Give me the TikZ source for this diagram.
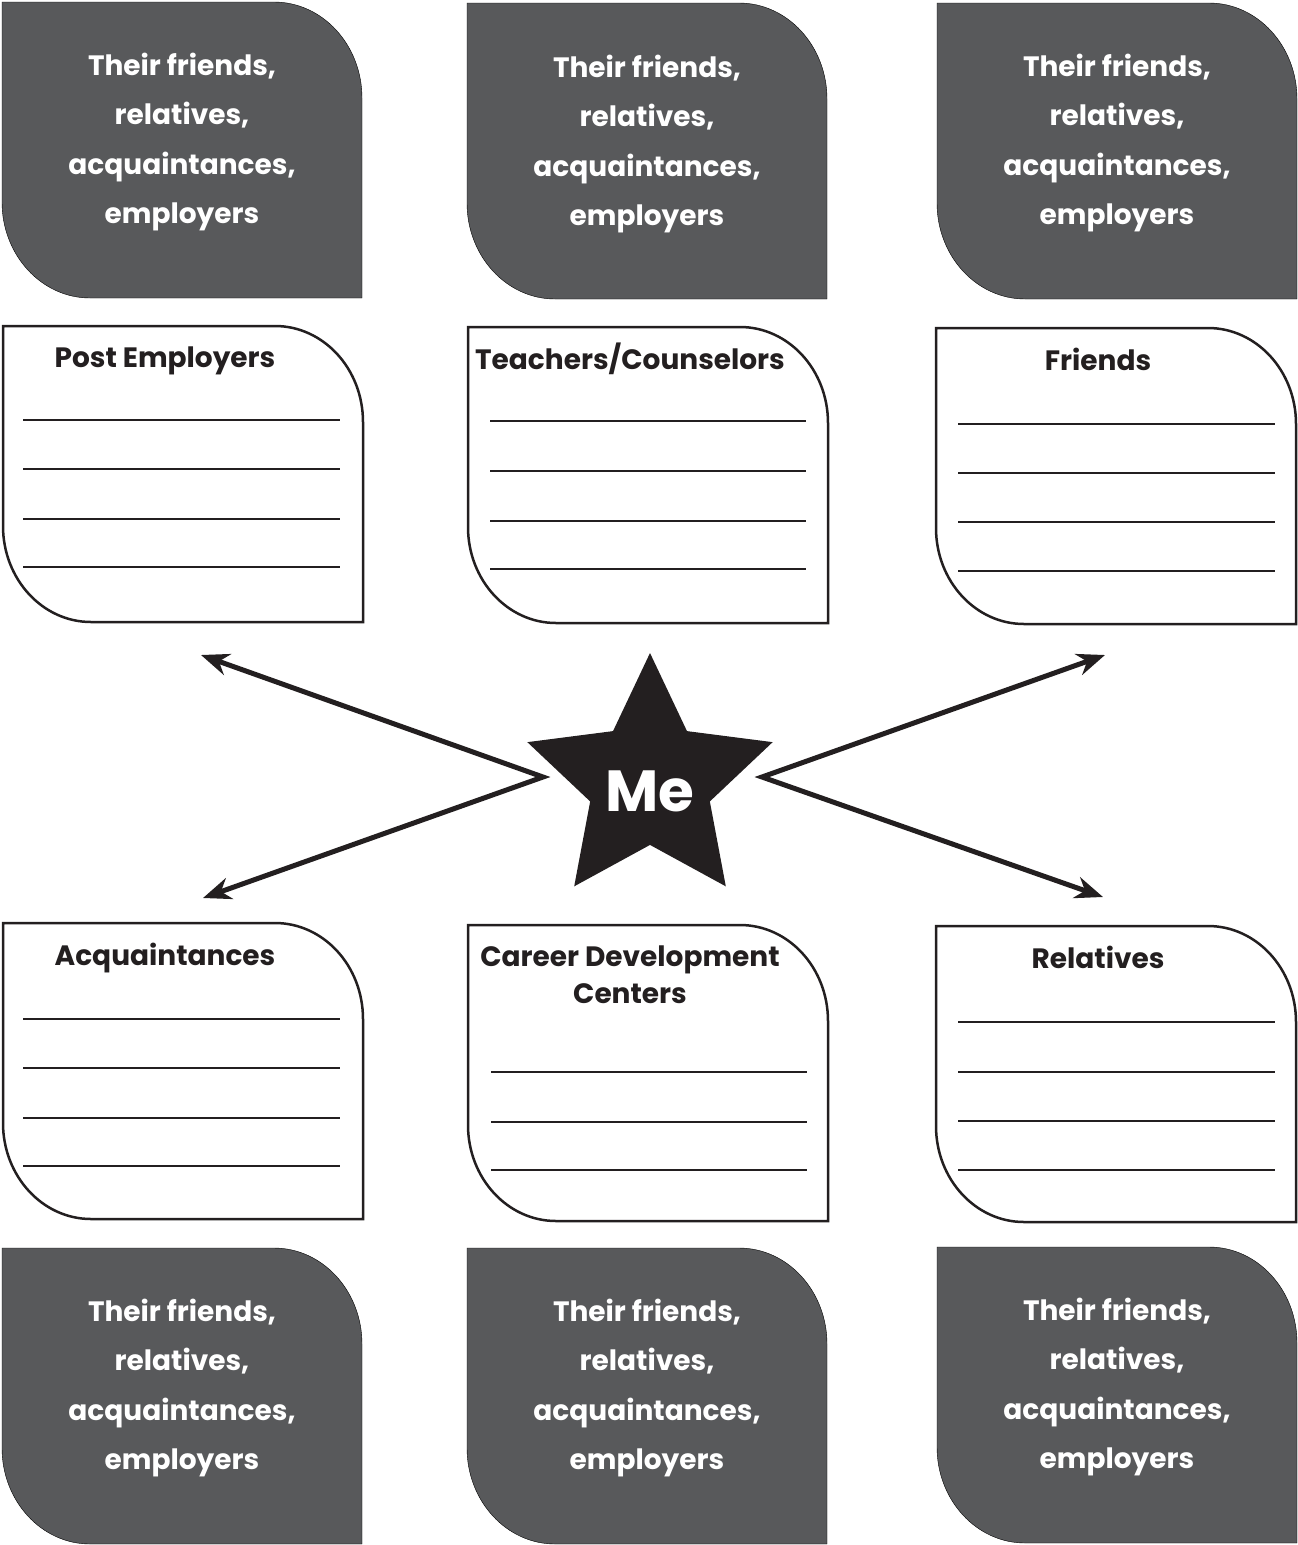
\documentclass[tikz,border=0pt]{standalone}
\usepackage{fontspec}
\setmainfont{Poppins}
\usetikzlibrary{arrows.meta,shapes.geometric}
\definecolor{boxgray}{HTML}{58595B}
\definecolor{inkblack}{HTML}{231F20}
\def\leafbox[#1](#2,#3){\draw[#1] (#2,#3) -- ++(272,0) arc[start angle=-90,end angle=0,x radius=88,y radius=96] -- ++(0,200) -- ++(-272,0) arc[start angle=90,end angle=180,x radius=88,y radius=96] -- cycle;}
\def\circletext{Their friends,\\relatives,\\acquaintances,\\employers}

\begin{document}
\begin{tikzpicture}[x=1pt,y=-1pt,
	darkbox/.style={fill=boxgray},
	paperbox/.style={draw=inkblack,line width=2.5pt,fill=white},
	ruleline/.style={draw=inkblack,line width=2.2pt},
	darktext/.style={text=white,font=\fontsize{28}{49.3}\selectfont\bfseries,align=center},
	titletext/.style={text=inkblack,font=\fontsize{28}{37}\selectfont\bfseries,align=center,anchor=base},
	mestar/.style={star,star points=5,star point ratio=2.05,minimum size=245pt,inner sep=0pt,fill=inkblack,text=white,text height=58pt,text depth=0pt,font=\fontsize{58}{58}\selectfont\bfseries},
	link/.style={draw=inkblack,line width=5pt,line join=miter,<->},
	>={Stealth[length=28pt,width=22pt,inset=9pt]}]
		\useasboundingbox (0,0) rectangle (1298,1545);
		
		%%%%% DARK BOXES %%%%%
		\leafbox[darkbox](2,2)
		\leafbox[darkbox](467,3)
		\leafbox[darkbox](937,3)
		\leafbox[darkbox](2,1248)
		\leafbox[darkbox](467,1248)
		\leafbox[darkbox](937,1247)
		
		\node[darktext] (circleA) at (182,142) {\circletext};
		\node[darktext] (circleB) at (647,144) {\circletext};
		\node[darktext] (circleC) at (1117,143) {\circletext};
		\node[darktext] (circleD) at (182,1388) {\circletext};
		\node[darktext] (circleE) at (647,1388) {\circletext};
		\node[darktext] (circleF) at (1117,1387) {\circletext};
		
		%%%%% WHITE BOXES %%%%%
		\leafbox[paperbox](3,326)
		\node[titletext] (postemp) at (165,367) {Post Employers};
		\foreach \y in {420,469,519,567} \draw[ruleline] (23,\y) -- (340,\y);
		
		\leafbox[paperbox](468,327)
		\node[titletext] (teachers) at (630,369) {Teachers/Counselors};
		\foreach \y in {421,471,521,569} \draw[ruleline] (490,\y) -- (806,\y);
		
		\leafbox[paperbox](936,328)
		\node[titletext] (friends) at (1098,370) {Friends};
		\foreach \y in {424,473,522,571} \draw[ruleline] (958,\y) -- (1275,\y);
		
		\leafbox[paperbox](3,923)
		\node[titletext] (acquaint) at (165,965) {Acquaintances};
		\foreach \y in {1019,1068,1118,1166} \draw[ruleline] (23,\y) -- (340,\y);
		
		\leafbox[paperbox](468,925)
		\node[titletext] (career) at (630,1003) {Career Development\\Centers};
		\foreach \y in {1072,1122,1170} \draw[ruleline] (491,\y) -- (807,\y);
		
		\leafbox[paperbox](936,926)
		\node[titletext] (relatives) at (1098,968) {Relatives};
		\foreach \y in {1022,1072,1121,1170} \draw[ruleline] (958,\y) -- (1275,\y);
		
		%%%%% STAR AND ARROWS %%%%%
		\node[mestar] (me) at (650,782) {Me};
		
		\coordinate (westapex) at (543,777);
		\coordinate (eastapex) at (762,777);
		\coordinate (tipNW) at (201,655);
		\coordinate (tipSW) at (203,898);
		\coordinate (tipNE) at (1105,655);
		\coordinate (tipSE) at (1103,897);
		
		\draw[link] (tipNW) -- (westapex) -- (tipSW);
		\draw[link] (tipNE) -- (eastapex) -- (tipSE);
		
	\end{tikzpicture}
\end{document}
